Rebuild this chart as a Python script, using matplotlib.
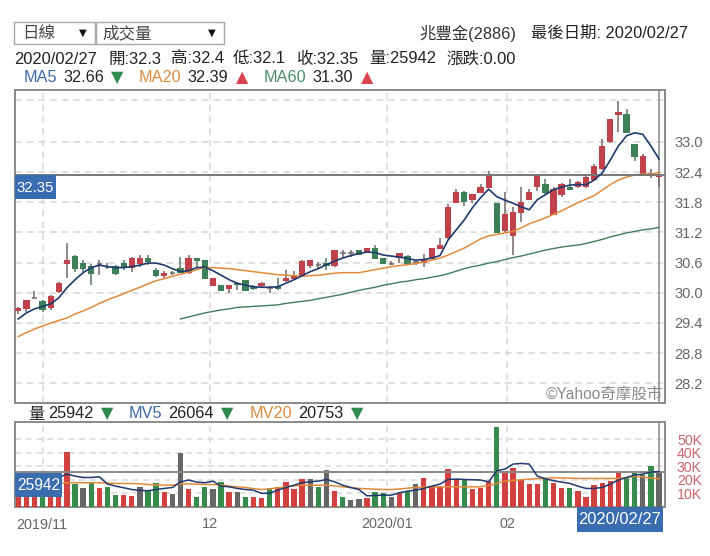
import matplotlib
matplotlib.use("Agg")
import matplotlib.pyplot as plt
from matplotlib.patches import Rectangle

plt.rcParams['font.family'] = ['Liberation Sans', 'Noto Sans CJK TC', 'DejaVu Sans']

# o/h/l/c
opens = [29.64,29.68,29.90,29.84,29.69,30.02,30.57,30.74,30.59,30.54,30.57,30.51,30.54,30.59,30.49,30.57,30.70,30.46,30.34,30.40,
         30.49,30.39,30.69,30.65,30.14,30.15,30.08,30.20,30.25,30.14,30.13,30.10,30.14,30.23,30.28,30.34,30.53,30.55,30.60,30.53,
         30.79,30.79,30.85,30.81,30.89,30.69,30.58,30.69,30.74,30.61,30.59,30.68,30.88,31.08,31.79,32.01,31.85,31.99,32.09,31.78,
         31.23,31.13,31.59,31.85,32.10,32.17,31.55,31.95,32.11,32.10,32.10,32.24,32.46,32.99,33.54,33.56,32.95,32.34,32.36,32.30]
highs = [29.72,29.86,30.04,29.86,29.96,30.22,30.99,30.76,30.65,30.57,30.65,30.59,30.55,30.65,30.72,30.75,30.75,30.50,30.44,30.44,
         30.71,30.75,30.70,30.65,30.30,30.15,30.15,30.21,30.26,30.15,30.21,30.14,30.30,30.45,30.44,30.65,30.66,30.61,30.69,30.86,
         30.85,30.85,30.86,30.90,30.94,30.69,30.64,30.80,30.75,30.64,30.77,30.90,31.09,31.76,32.07,32.03,31.97,32.17,32.42,31.79,
         32.01,31.71,32.11,32.07,32.36,32.26,32.11,32.18,32.26,32.22,32.33,32.56,33.05,33.46,33.82,33.66,32.96,32.76,32.46,32.40]
lows = [29.58,29.62,29.89,29.62,29.66,30.00,30.30,30.42,30.42,30.16,30.36,30.48,30.36,30.46,30.42,30.51,30.55,30.31,30.30,30.36,
        30.39,30.38,30.50,30.28,30.14,30.04,30.00,30.06,30.03,30.06,30.12,30.00,30.06,30.22,30.27,30.33,30.50,30.47,30.46,30.52,
        30.71,30.71,30.75,30.80,30.67,30.57,30.55,30.60,30.57,30.56,30.51,30.67,30.87,31.07,31.78,31.73,31.79,31.98,32.08,31.18,
        31.19,30.75,31.40,31.84,32.03,31.97,31.54,31.91,32.04,32.08,32.08,32.23,32.45,32.98,33.20,33.17,32.62,32.33,32.28,32.10]
closes = [29.70,29.85,29.90,29.66,29.94,30.20,30.65,30.48,30.48,30.38,30.57,30.51,30.38,30.52,30.69,30.69,30.62,30.34,30.40,30.40,
          30.40,30.70,30.63,30.28,30.30,30.04,30.15,30.16,30.04,30.08,30.20,30.10,30.08,30.30,30.35,30.64,30.65,30.55,30.53,30.85,
          30.79,30.79,30.76,30.89,30.68,30.57,30.58,30.79,30.58,30.61,30.68,30.89,30.95,31.71,32.01,31.80,31.96,32.11,32.36,31.19,
          31.56,31.61,31.81,32.01,32.35,31.99,32.06,32.16,32.05,32.21,32.31,32.51,32.91,33.45,33.60,33.18,32.69,32.71,32.36,32.35]

ma5 = [29.48,29.60,29.68,29.73,29.78,29.90,30.10,30.26,30.40,30.50,30.55,30.52,30.50,30.50,30.52,30.55,30.59,30.59,30.55,30.48,
       30.42,30.44,30.50,30.51,30.44,30.35,30.26,30.19,30.15,30.12,30.11,30.11,30.12,30.19,30.26,30.34,30.42,30.48,30.56,30.63,
       30.69,30.74,30.78,30.81,30.80,30.75,30.73,30.71,30.68,30.65,30.66,30.69,30.74,31.05,31.25,31.45,31.69,31.89,32.06,31.91,
       31.84,31.78,31.71,31.65,31.85,31.95,32.05,32.10,32.14,32.15,32.15,32.24,32.38,32.64,32.92,33.12,33.18,33.15,32.92,32.66]
ma20 = [29.13,29.21,29.28,29.34,29.40,29.45,29.50,29.58,29.64,29.71,29.79,29.86,29.92,29.98,30.05,30.11,30.18,30.24,30.28,30.33,
        30.37,30.41,30.46,30.50,30.50,30.49,30.48,30.46,30.44,30.42,30.40,30.38,30.36,30.35,30.34,30.33,30.34,30.35,30.37,30.39,
        30.40,30.40,30.40,30.43,30.46,30.49,30.52,30.54,30.56,30.58,30.61,30.65,30.69,30.75,30.82,30.89,30.98,31.07,31.13,31.16,
        31.19,31.22,31.29,31.37,31.43,31.49,31.56,31.63,31.71,31.79,31.86,31.93,32.04,32.15,32.24,32.30,32.34,32.36,32.36,32.39]
ma60 = [29.48,29.52,29.56,29.60,29.63,29.66,29.68,29.71,29.72,29.73,29.74,29.75,29.76,29.79,29.81,29.83,29.85,29.88,29.91,29.94,
        29.97,30.01,30.05,30.08,30.11,30.15,30.18,30.21,30.23,30.26,30.28,30.31,30.34,30.38,30.43,30.48,30.52,30.55,30.59,30.62,
        30.66,30.70,30.73,30.77,30.81,30.85,30.88,30.91,30.93,30.95,30.98,31.02,31.06,31.11,31.15,31.19,31.22,31.25,31.27,31.30]

volume = [15000,18000,14000,12000,16000,20000,40700,16800,14000,17300,14000,14800,9100,9100,8100,14800,11900,17300,11100,9400,
          39500,12800,7400,14800,13100,18500,11100,11100,6900,7400,6700,13600,14300,18300,13100,20200,20200,14800,26900,11900,
          7400,5400,5700,6400,10900,9900,7400,9900,11600,16500,21000,14300,14300,27700,20200,19800,13100,14000,19300,59300,
          26700,28600,19800,16800,16800,20500,17800,14000,14000,11900,7400,15800,17500,19300,25400,21700,24700,23500,30400,25942]
vol_colors = list("rrrgrr" "rgkgrggrrkggrkkrggkgrk" "grrgrrrrkgkrgkkrggkrgk" "rrrrrg" "rrrg" "rrrrrg" "rrgrrrrrr" "ggkgk")
mv5 = [16000,16000,17300,18500,19800,21700,24200,22700,21700,21700,22200,16800,15300,14100,12800,12100,11900,12800,13600,14300,
       18300,19800,18300,17800,19000,15300,14800,13600,12800,12300,9900,10100,12300,14300,16000,17800,18500,19000,20200,18500,
       16000,14300,12800,8100,8400,8600,8600,10400,11600,12300,13600,15300,16800,20200,20500,20200,20000,19800,18500,26700,
       27900,31600,32100,31600,22700,20700,19300,18300,17300,15300,13600,13600,14300,16800,19800,21700,23500,24200,25700,26064]
mv20 = [17000,17000,17000,17000,17200,17500,17800,17800,17800,17800,17800,17500,17300,17300,17200,17000,16500,16200,16000,16000,
        17000,17000,16700,16500,16500,16200,15300,14800,14300,13500,12800,13300,14000,14800,15500,16000,16000,16000,16000,15400,
        14800,14200,13600,13300,13000,12800,12800,13200,13800,14300,14500,14800,14800,14800,14800,14800,14800,14800,15800,17300,
        19000,19500,20000,20500,20800,21100,21500,21400,21200,21000,21000,21000,21000,21000,21000,21500,22700,22000,21200,20753]

price_ticks = [33.0,32.4,31.8,31.2,30.6,30.0,29.4,28.8,28.2]
price_grid_top = 33.83
vol_ticks = [50000,40000,30000,20000,10000]
vol_tick_labels = ["50K","40K","30K","20K","10K"]
month_pos = [3,23.58,45.5,60.3]
month_labels = ["2019/11","12","2020/01","02"]

last_close = 32.35
last_vol = 25942

W, H = 710, 556
RED = '#c0414a'
GREEN = '#3d7f56'
BLUE = '#3a6cb0'
ORANGE = '#e08a3c'
EDGE = '#8a8a8a'
GRID = '#d9d9d9'
vc = {'r': '#d2403f', 'g': '#358a4c', 'k': '#666666'}

fig = plt.figure(figsize=(W/100, H/100), dpi=100)

def make_axes(top, bottom):
    return fig.add_axes([14.7/W, 1-bottom/H, (664.5-14.7)/W, (bottom-top)/H])

def txt(x, y, s, color='#222222', size=16.5, ha='left', **kw):
    return fig.text(x/W, 1-y/H, s, color=color, fontsize=size*0.72, ha=ha, va='center', **kw)

def box(x0, y0, x1, y1, **kw):
    fig.add_artist(Rectangle((x0/W, 1-y1/H), (x1-x0)/W, (y1-y0)/H, transform=fig.transFigure, **kw))

# price panel
ax = make_axes(89.5, 402.5)
xs = list(range(len(closes)))
for i in xs:
    if closes[i] > opens[i]:
        c = RED
    elif closes[i] < opens[i]:
        c = GREEN
    else:
        c = '#6e6e6e'
    ax.vlines(i, lows[i], highs[i], color='#77666a' if c != GREEN else '#5a7565', lw=1.1, zorder=2)
    bottom = min(opens[i], closes[i])
    height = abs(closes[i]-opens[i])
    if height == 0:
        ax.hlines(closes[i], i-0.35, i+0.35, color=c, lw=1.1, zorder=3)
    else:
        ax.bar(i, height, bottom=bottom, width=0.78, color=c, zorder=3)
ax.plot(xs, ma5, color='#1f3a6e', lw=1.2, zorder=5)
ax.plot(xs, ma20, color=ORANGE, lw=1.1, zorder=4)
ax.plot(xs[-len(ma60):], ma60, color='#3f7d5a', lw=1.0, zorder=4)
ax.axhline(last_close, color='#777777', lw=1.4, zorder=4)
ax.axvline(xs[-1], color='#999999', lw=1.3, zorder=1)
ax.axhline(price_grid_top, color=GRID, lw=1.2, ls=(0, (4, 3)), zorder=0)
ax.set_xlim(-0.44, 79.68)
ax.set_ylim(27.82, 34.04)
ax.set_xticks(month_pos)
ax.set_xticklabels([])
ax.set_yticks(price_ticks)
ax.set_yticklabels(["%.1f" % t for t in price_ticks])
ax.yaxis.tick_right()
ax.tick_params(length=0, labelsize=10.5, labelcolor='#666666', pad=7)
ax.grid(True, color=GRID, lw=1.2, ls=(0, (4, 3)), zorder=0)
ax.set_axisbelow(True)
for s in ax.spines.values():
    s.set_color(EDGE)
    s.set_linewidth(1.4)

# volume panel
ax2 = make_axes(422, 506.8)
ax2.bar(xs, volume, width=0.66, color=[vc[k] for k in vol_colors], zorder=3)
ax2.plot(xs, mv5, color='#1f3a6e', lw=1.1, zorder=5)
ax2.plot(xs, mv20, color=ORANGE, lw=1.1, zorder=4)
ax2.axhline(last_vol, color='#888888', lw=1.4, zorder=4)
ax2.axvline(xs[-1], color='#999999', lw=1.3, zorder=1)
ax2.set_xlim(-0.44, 79.68)
ax2.set_ylim(0, 62740)
ax2.set_yticks(vol_ticks)
ax2.set_yticklabels(vol_tick_labels)
ax2.yaxis.tick_right()
ax2.tick_params(axis='y', length=0, labelsize=10.2, labelcolor='#c9646c', pad=9)
ax2.set_xticks(month_pos)
ax2.set_xticklabels([""] + month_labels[1:])
ax2.tick_params(axis='x', length=0, labelsize=10.4, labelcolor='#666666', pad=7)
# first month label starts at the panel's left edge
ax2.text(-0.3, -0.215, month_labels[0], color='#666666', fontsize=10.4, ha='left', va='center',
         transform=ax2.get_xaxis_transform())
ax2.grid(True, color=GRID, lw=1.1, ls=(0, (4, 3)), zorder=0)
ax2.set_axisbelow(True)
for s in ax2.spines.values():
    s.set_color(EDGE)
    s.set_linewidth(1.4)

# dropdowns
box(14.3, 21.7, 95, 44.3, fc='white', ec='#a8a8a8', lw=1)
box(96, 21.7, 224, 44.3, fc='white', ec='#a8a8a8', lw=1)
txt(22, 33.5, "日線", color='#444444', size=16.5)
txt(102, 33.5, "成交量", color='#444444', size=16.5)
txt(83, 33, "▼", color='#111111', size=10, ha='center', family='DejaVu Sans')
txt(212, 33, "▼", color='#111111', size=10, ha='center', family='DejaVu Sans')
txt(419, 33, "兆豐金(2886)", color='#333333', size=16.4)
txt(531, 33, "最後日期: 2020/02/27", color='#222222', size=16.4)

# quote line
for x, s in [(14, "2020/02/27"), (108, "開:32.3"), (171, "高:32.4"), (233, "低:32.1"),
             (297, "收:32.35"), (369, "量:25942"), (446, "漲跌:0.00")]:
    txt(x, 59, s, size=16.5)

# MA legend
MA_BLUE = '#3f69a8'
MA_GREEN = '#4b8b66'
UP = '#d9434e'
DOWN = '#2f8a4e'
for x, s, c in [(24, "MA5", MA_BLUE), (63, "32.66", '#222222'), (139, "MA20", ORANGE), (187, "32.39", '#222222'),
                (264, "MA60", MA_GREEN), (312, "31.30", '#222222')]:
    txt(x, 78, s, color=c, size=16.2)
for x, s, c in [(117, "▼", DOWN), (242, "▲", UP), (367, "▲", UP)]:
    txt(x, 78, s, color=c, size=16, ha='center', family='DejaVu Sans')

# volume legend
for x, s, c in [(28, "量", '#222222'), (48, "25942", '#222222'), (129, "MV5", MA_BLUE), (168, "26064", '#222222'),
                (250, "MV20", ORANGE), (298, "20753", '#222222')]:
    txt(x, 414, s, color=c, size=16.2)
for x in [107, 227, 357]:
    txt(x, 414, "▼", color=DOWN, size=16, ha='center', family='DejaVu Sans')

# value flags
box(15, 175, 56, 199, fc=BLUE, ec='none', zorder=10)
fig.text(35.5/W, 1-187.5/H, "32.35", color='white', fontsize=10.8, ha='center', va='center', zorder=11)
box(15, 472.7, 62.5, 497, fc=BLUE, ec='none', zorder=10)
fig.text(38.8/W, 1-485/H, "25942", color='white', fontsize=11.2, ha='center', va='center', zorder=11)
box(576.7, 507, 663, 532, fc=BLUE, ec='none', zorder=10)
fig.text(620/W, 1-519.5/H, "2020/02/27", color='white', fontsize=11.9, ha='center', va='center', zorder=11)

txt(663, 394, "©Yahoo奇摩股市", color='#8a8a8a', size=15.5, ha='right')

fig.savefig("out.png", dpi=100)
